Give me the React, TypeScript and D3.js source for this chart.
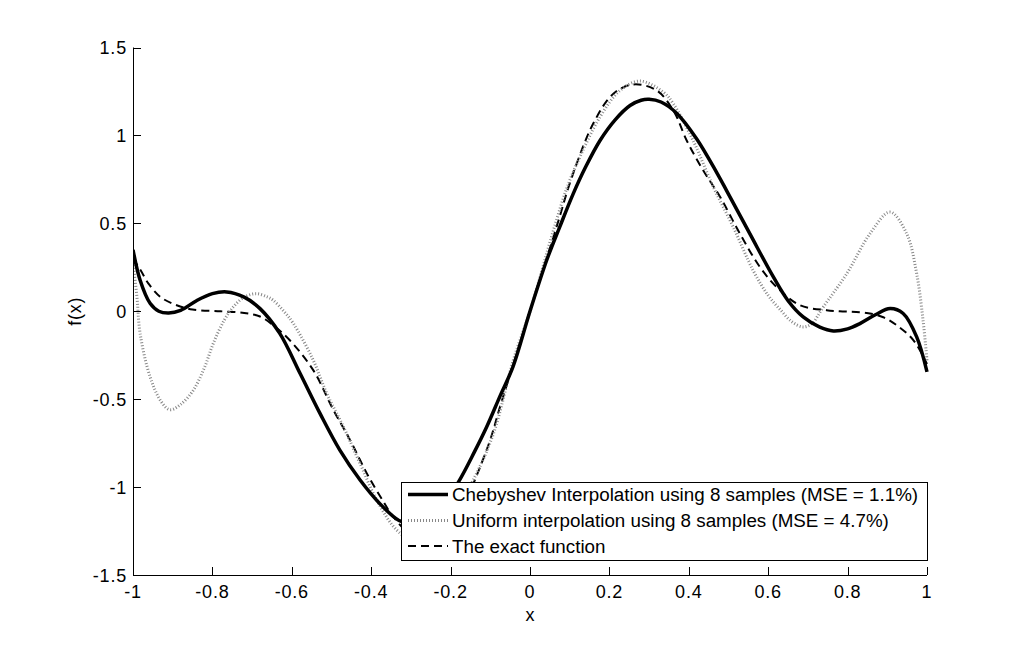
import React from "react";
import * as d3 from "d3";

// ---- data ----
const chebX = [-1, -0.982, -0.957, -0.935, -0.91, -0.88, -0.84, -0.8, -0.764, -0.72, -0.68, -0.63, -0.579, -0.529, -0.479, -0.428, -0.38, -0.33, -0.3, -0.27, -0.22, -0.18, -0.14, -0.109, -0.075, -0.043, 0, 0.042, 0.075, 0.109, 0.14, 0.176, 0.215, 0.252, 0.28, 0.3, 0.33, 0.37, 0.42, 0.47, 0.4955, 0.554, 0.613, 0.65, 0.688, 0.73, 0.764, 0.8, 0.831, 0.87, 0.907, 0.94, 0.974, 1];
const chebY = [0.35, 0.176, 0.045, 0.0, -0.01, 0.005, 0.06, 0.1, 0.11, 0.08, 0.015, -0.127, -0.354, -0.581, -0.79, -0.96, -1.09, -1.19, -1.205, -1.2, -1.1, -0.97, -0.8, -0.657, -0.48, -0.316, 0.0, 0.29, 0.48, 0.669, 0.82, 0.97, 1.09, 1.17, 1.2, 1.205, 1.19, 1.125, 0.98, 0.79, 0.685, 0.44, 0.195, 0.06, -0.032, -0.09, -0.112, -0.1, -0.07, -0.02, 0.015, -0.013, -0.146, -0.345];

const unifX = [-1, -0.99, -0.982, -0.957, -0.93, -0.907, -0.88, -0.848, -0.82, -0.798, -0.77, -0.747, -0.72, -0.69, -0.66, -0.647, -0.62, -0.596, -0.546, -0.512, -0.47, -0.428, -0.386, -0.336, -0.29, -0.25, -0.2, -0.143, -0.092, -0.042, 0, 0.059, 0.092, 0.118, 0.176, 0.227, 0.277, 0.336, 0.361, 0.411, 0.462, 0.512, 0.5625, 0.6, 0.63, 0.66, 0.688, 0.71, 0.739, 0.798, 0.856, 0.907, 0.949, 0.974, 0.99, 1];
const unifY = [0.28, 0.08, -0.127, -0.373, -0.51, -0.56, -0.53, -0.449, -0.32, -0.184, -0.05, 0.025, 0.08, 0.1, 0.08, 0.0625, 0.0, -0.07, -0.278, -0.468, -0.657, -0.866, -1.074, -1.244, -1.31, -1.29, -1.17, -0.96, -0.695, -0.278, 0.0, 0.46, 0.695, 0.839, 1.104, 1.256, 1.309, 1.246, 1.18, 0.97, 0.706, 0.479, 0.23, 0.09, 0.01, -0.06, -0.089, -0.07, 0.025, 0.214, 0.44, 0.564, 0.44, 0.214, -0.05, -0.28];

const exactX = [-1, -0.98, -0.961, -0.93, -0.89, -0.85, -0.78, -0.72, -0.68, -0.647, -0.605, -0.546, -0.495, -0.453, -0.411, -0.37, -0.344, -0.3, -0.26, -0.21, -0.16, -0.139, -0.1, -0.0756, -0.0335, 0, 0.042, 0.0756, 0.1, 0.159, 0.21, 0.26, 0.319, 0.361, 0.395, 0.4365, 0.479, 0.529, 0.579, 0.621, 0.68, 0.747, 0.78, 0.848, 0.89, 0.924, 0.966, 1];
const exactY = [0.3, 0.23, 0.157, 0.08, 0.034, 0.01, 0.0, -0.01, -0.03, -0.08, -0.165, -0.335, -0.5625, -0.733, -0.922, -1.08, -1.17, -1.27, -1.29, -1.24, -1.07, -0.96, -0.73, -0.544, -0.24, 0.0, 0.3, 0.544, 0.726, 1.066, 1.237, 1.29, 1.256, 1.142, 0.97, 0.8, 0.65, 0.44, 0.252, 0.138, 0.034, 0.006, 0.0, -0.01, -0.034, -0.08, -0.165, -0.3];

const xTicks = [-1, -0.8, -0.6, -0.4, -0.2, 0, 0.2, 0.4, 0.6, 0.8, 1];
const xTickLabels = ["-1", "-0.8", "-0.6", "-0.4", "-0.2", "0", "0.2", "0.4", "0.6", "0.8", "1"];
const yTicks = [-1.5, -1, -0.5, 0, 0.5, 1, 1.5];
const yTickLabels = ["-1.5", "-1", "-0.5", "0", "0.5", "1", "1.5"];

const legendLabels = [
  "Chebyshev Interpolation using 8 samples (MSE = 1.1%)",
  "Uniform interpolation using 8 samples (MSE = 4.7%)",
  "The exact function",
];
const xLabel = "x";
const yLabel = "f(x)";

const W = 1024;
const H = 646;
const FONT = "'Liberation Sans', Arial, Helvetica, sans-serif";

export default function App() {
  const x = d3.scaleLinear().domain([-1, 1]).range([133, 927]);
  const y = d3.scaleLinear().domain([-1.5, 1.5]).range([575, 47.5]);

  const line = d3
    .line<[number, number]>()
    .x((d) => x(d[0]))
    .y((d) => y(d[1]))
    .curve(d3.curveCatmullRom.alpha(0.5));

  const zip = (a: number[], b: number[]) => a.map((v, i) => [v, b[i]] as [number, number]);

  const styles = [
    { stroke: "#000", width: 3.5, dash: undefined as string | undefined },
    { stroke: "#888", width: 3, dash: "1,2" },
    { stroke: "#000", width: 2, dash: "8,5" },
  ];
  const series = [zip(chebX, chebY), zip(unifX, unifY), zip(exactX, exactY)];

  const [x0, x1] = x.range();
  const [yb, yt] = y.range();

  const legend = { left: 401, top: 482, right: 927, bottom: 560 };
  const rowY = [494.5, 520.5, 546];
  const tickFont = 18;
  const tickSpacing = 0.8;

  return (
    <svg
      width={W}
      height={H}
      style={{ position: "absolute", left: 0, top: 0, background: "#fff" }}
      fontFamily={FONT}
    >
      <rect x={0} y={0} width={W} height={H} fill="#fff" />
      <defs>
        <clipPath id="plot">
          <rect x={x0} y={yt - 5} width={x1 - x0 + 2} height={yb - yt + 10} />
        </clipPath>
      </defs>

      {/* curves: exact first, then uniform, then chebyshev on top */}
      <g clipPath="url(#plot)" fill="none">
        {[2, 1, 0].map((i) => (
          <path
            key={i}
            d={line(series[i]) || ""}
            stroke={styles[i].stroke}
            strokeWidth={styles[i].width}
            strokeDasharray={styles[i].dash}
            strokeLinejoin="round"
          />
        ))}
      </g>

      {/* axes */}
      <line x1={x0} x2={x1} y1={yb + 0.5} y2={yb + 0.5} stroke="#000" strokeWidth={1} />
      <line x1={x0 + 0.5} x2={x0 + 0.5} y1={yt} y2={yb + 0.5} stroke="#000" strokeWidth={1} />
      {xTicks.map((t, i) => (
        <g key={"xt" + i}>
          <line x1={Math.round(x(t)) + 0.5} x2={Math.round(x(t)) + 0.5} y1={yb} y2={yb - 8} stroke="#000" />
          <text
            x={x(t)}
            y={yb + 23}
            fontSize={tickFont}
            letterSpacing={tickSpacing}
            textAnchor="middle"
            fill="#000"
          >
            {xTickLabels[i]}
          </text>
        </g>
      ))}
      {yTicks.map((t, i) => (
        <g key={"yt" + i}>
          <line x1={x0} x2={x0 + 8} y1={Math.round(y(t)) + 0.5} y2={Math.round(y(t)) + 0.5} stroke="#000" />
          <text
            x={x0 - 6}
            y={y(t) + 6.5}
            fontSize={tickFont}
            letterSpacing={tickSpacing}
            textAnchor="end"
            fill="#000"
          >
            {yTickLabels[i]}
          </text>
        </g>
      ))}

      <text x={(x0 + x1) / 2} y={621} fontSize={tickFont} textAnchor="middle" fill="#000">
        {xLabel}
      </text>
      <text
        transform={`translate(81, ${(yb + yt) / 2}) rotate(-90)`}
        fontSize={tickFont}
        letterSpacing={tickSpacing}
        textAnchor="middle"
        fill="#000"
      >
        {yLabel}
      </text>

      {/* legend */}
      <rect
        x={legend.left + 0.5}
        y={legend.top + 0.5}
        width={legend.right - legend.left}
        height={legend.bottom - legend.top}
        fill="#fff"
        stroke="#000"
        strokeWidth={1}
      />
      {legendLabels.map((lab, i) => (
        <g key={"lg" + i}>
          <line
            x1={408}
            x2={448}
            y1={rowY[i]}
            y2={rowY[i]}
            stroke={styles[i].stroke}
            strokeWidth={styles[i].width}
            strokeDasharray={styles[i].dash}
          />
          <text x={452} y={rowY[i] + 6.5} fontSize={18.8} fill="#000">
            {lab}
          </text>
        </g>
      ))}
    </svg>
  );
}
